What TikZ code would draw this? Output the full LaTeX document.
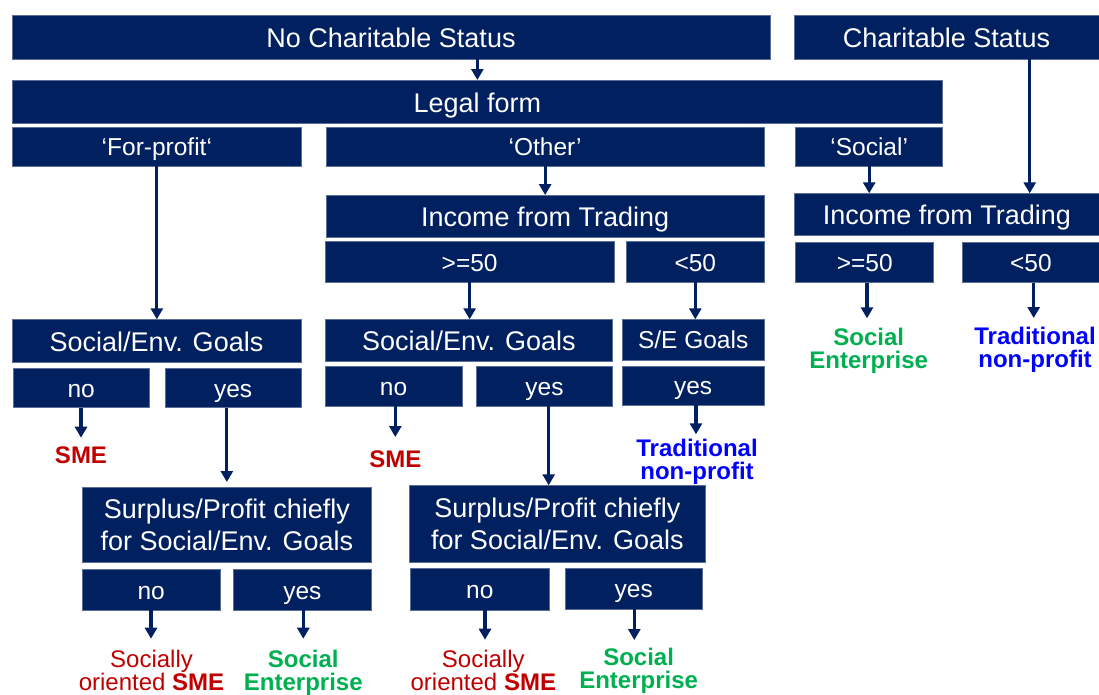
\documentclass[tikz,border=0pt]{standalone}
\usepackage{fontspec}
\setmainfont{Liberation Sans}
\usetikzlibrary{arrows.meta}
\definecolor{navy}{HTML}{002060}
\definecolor{boxedge}{HTML}{5A6E96}
\definecolor{smered}{HTML}{C00000}
\definecolor{segreen}{HTML}{00B050}
\definecolor{tnpblue}{HTML}{0000FF}
\tikzset{
  box/.style={fill=navy, draw=boxedge, line width=0.6pt, text=white, inner sep=0pt, outer sep=0pt, anchor=north west},
  big/.style={font=\fontsize{27}{32}\selectfont, text height=21pt, text depth=0pt},
  small/.style={font=\fontsize{24.5}{28}\selectfont, text height=18.5pt, text depth=0pt},
  two/.style={font=\fontsize{27}{31.5}\selectfont, align=center},
  arr/.style={draw=navy, line width=3.2pt, -{Triangle[width=12pt,length=11pt]}},
  lab/.style={anchor=north, inner sep=0pt, align=center, font=\fontsize{24}{23}\selectfont},
  labb/.style={lab, font=\fontsize{24}{23}\selectfont\bfseries},
}
\newcommand{\bx}[7]{\node[box,#1,minimum width={(#5-#3)*1pt},minimum height={(#6-#4)*1pt}] (#2) at (#3,#4) {#7};}
\begin{document}
\begin{tikzpicture}[x=1pt,y=-1pt]
\useasboundingbox (0,0) rectangle (1099,694);
% row 1
\bx{big}{ncs}{12}{15}{770}{59}{No Charitable Status}
\bx{big}{cs}{794}{15}{1099}{59}{Charitable Status}
% row 2
\bx{big}{legal}{12}{80}{942.7}{123.3}{Legal form}
% row 3
\bx{small}{forprofit}{12}{127.3}{301.7}{166}{‘For-profit‘}
\bx{small}{other}{326}{127.3}{764.3}{166}{‘Other’}
\bx{small}{social}{795.7}{127.3}{942.7}{166}{‘Social’}
% income from trading
\bx{big}{ift1}{326}{195}{764.3}{237.3}{Income from Trading}
\bx{big}{ift2}{794.7}{193.3}{1099}{235}{Income from Trading}
\bx{small}{ge1}{325}{241.7}{614.3}{282.3}{>=50}
\bx{small}{lt1}{626.3}{241.7}{764.3}{282.3}{<50}
\bx{small}{ge2}{795.7}{242.7}{933.7}{282.7}{>=50}
\bx{small}{lt2}{962.7}{242.7}{1099}{282.7}{<50}
% goals
\bx{big}{seg1}{12}{319.3}{301}{362}{Social/Env. Goals}
\bx{big}{seg2}{325}{319.3}{612.7}{361}{Social/Env. Goals}
\bx{small}{seg3}{622}{319.3}{764.3}{360}{S/E Goals}
\bx{small}{no1}{13}{368}{149.3}{407.7}{no}
\bx{small}{yes1}{165.3}{368}{301}{407.7}{yes}
\bx{small}{no2}{325}{366.3}{462}{406.3}{no}
\bx{small}{yes2}{476.3}{366.3}{612.7}{406}{yes}
\bx{small}{yes3}{622}{366}{764.3}{405.3}{yes}
% surplus
\bx{two}{sur1}{82.7}{487}{371}{562.7}{Surplus/Profit chiefly\\for Social/Env. Goals}
\bx{two}{sur2}{409.3}{485.3}{705.3}{562.7}{Surplus/Profit chiefly\\for Social/Env. Goals}
\bx{small}{no3}{82}{569.7}{220.3}{610.3}{no}
\bx{small}{yes4}{233.3}{569.7}{371.5}{610.3}{yes}
\bx{small}{no4}{410.7}{568.7}{549}{610}{no}
\bx{small}{yes5}{565.3}{568}{702.3}{609.3}{yes}
% outcome labels
\node[labb, text=segreen] (se1) at (868.7,328.3) {Social\\Enterprise};
\node[labb, text=tnpblue] (tnp1) at (1035,326.7) {Traditional\\non-profit};
\node[labb, text=smered] (sme1) at (81,447) {SME};
\node[labb, text=smered] (sme2) at (395.3,450.3) {SME};
\node[labb, text=tnpblue] (tnp2) at (697,438.7) {Traditional\\non-profit};
\node[lab, text=smered] (soc1) at (151.5,650.3) {Socially\\oriented \textbf{SME}};
\node[labb, text=segreen] (se2) at (303.3,649.7) {Social\\Enterprise};
\node[lab, text=smered] (soc2) at (483.3,650.3) {Socially\\oriented \textbf{SME}};
\node[labb, text=segreen] (se3) at (638.6,648) {Social\\Enterprise};
% arrow tips at labels
\coordinate (tse1) at (867,318.3);
\coordinate (ttnp1) at (1033.7,318);
\coordinate (tsme1) at (81,437.7);
\coordinate (tsme2) at (395.3,437);
\coordinate (ttnp2) at (696,434.3);
\coordinate (tsoc1) at (151,638.7);
\coordinate (tse2) at (303.3,638.7);
\coordinate (tsoc2) at (485,639.7);
\coordinate (tse3) at (634.3,640);
\coordinate (csx) at ([xshift=83.2pt]cs.south);
\coordinate (y2x) at ([xshift=4.2pt]yes2.south);
% connectors
\draw[arr] (ncs.south -| legal.north) -- (legal.north);
\draw[arr] (forprofit.south) -- (forprofit.south |- seg1.north);
\draw[arr] (other.south) -- (ift1.north);
\draw[arr] (social.south) -- (social.south |- ift2.north);
\draw[arr] (csx) -- (csx |- ift2.north);
\draw[arr] (ge1.south) -- (ge1.south |- seg2.north);
\draw[arr] (lt1.south) -- (lt1.south |- seg3.north);
\draw[arr] (tse1 |- ge2.south) -- (tse1);
\draw[arr] (ttnp1 |- lt2.south) -- (ttnp1);
\draw[arr] (tsme1 |- no1.south) -- (tsme1);
\draw[arr, shorten >=5pt] (sur1.north |- yes1.south) -- (sur1.north);
\draw[arr] (tsme2 |- no2.south) -- (tsme2);
\draw[arr] (y2x) -- (y2x |- sur2.north);
\draw[arr] (ttnp2 |- yes3.south) -- (ttnp2);
\draw[arr] (tsoc1 |- no3.south) -- (tsoc1);
\draw[arr] (tse2 |- yes4.south) -- (tse2);
\draw[arr] (tsoc2 |- no4.south) -- (tsoc2);
\draw[arr] (tse3 |- yes5.south) -- (tse3);
\end{tikzpicture}
\end{document}
